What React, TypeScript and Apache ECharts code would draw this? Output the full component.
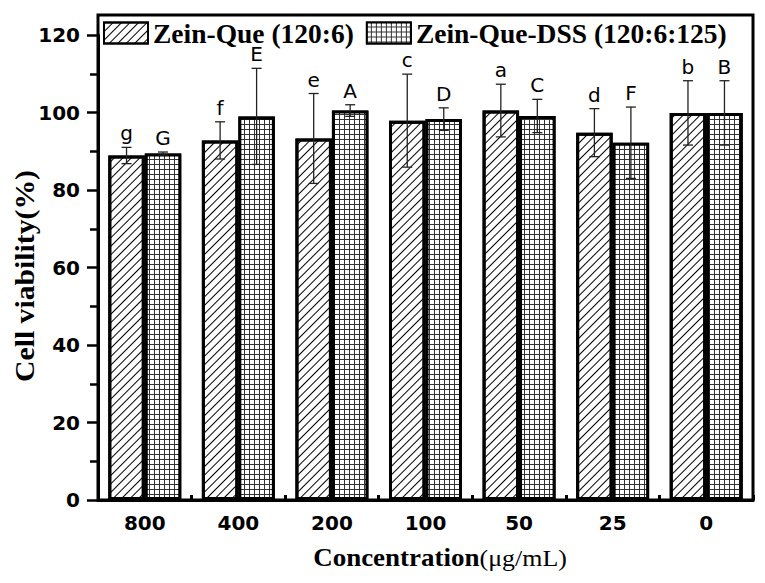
import { useEffect, useRef } from 'react';
import * as echarts from 'echarts';

const categories = ['800', '400', '200', '100', '50', '25', '0'];
const seriesNames = ['Zein-Que (120:6)', 'Zein-Que-DSS (120:6:125)'];
const queMeans = [88.9, 92.8, 93.3, 97.9, 100.5, 94.8, 99.9];
const queSD = [2.1, 4.8, 11.6, 12.0, 6.8, 6.2, 8.3];
const queLetters = ['g', 'f', 'e', 'c', 'a', 'd', 'b'];
const dssMeans = [89.4, 99.0, 100.5, 98.3, 99.1, 92.2, 99.9];
const dssSD = [0.4, 12.4, 1.5, 2.9, 4.3, 9.2, 8.3];
const dssLetters = ['G', 'E', 'A', 'D', 'C', 'F', 'B'];
const yTicks = [0, 20, 40, 60, 80, 100, 120];

const CAT_GAP = 0.22;

const hatchDecal = {
  symbol: 'rect',
  symbolSize: 1,
  color: '#000',
  dashArrayX: [1, 0],
  dashArrayY: [0.8, 4.2],
  rotation: -Math.PI / 4,
};

const gridDecal = {
  symbol: 'rect',
  symbolSize: 1,
  color: '#fff',
  dashArrayX: [3.3, 1],
  dashArrayY: [3.3, 1],
  rotation: 0,
};

function errSeries(means: number[], sds: number[], letters: string[], side: number) {
  return {
    type: 'custom',
    z: 5,
    silent: true,
    data: means.map((m, i) => [i, m, sds[i]]),
    encode: { x: 0, y: 1 },
    renderItem: (params: any, api: any) => {
      const i = api.value(0);
      const m = api.value(1);
      const s = api.value(2);
      const band = api.size([1, 0])[0];
      const barW = (band * (1 - CAT_GAP)) / 2;
      const c = api.coord([i, m]);
      const cx = c[0] + (side * barW) / 2;
      const yTop = api.coord([i, m + s])[1];
      const yBot = api.coord([i, m - s])[1];
      const cap = 5;
      const ls = { stroke: '#222', lineWidth: 1.3 };
      return {
        type: 'group',
        children: [
          { type: 'line', shape: { x1: cx, y1: yTop, x2: cx, y2: yBot }, style: ls },
          { type: 'line', shape: { x1: cx - cap, y1: yTop, x2: cx + cap, y2: yTop }, style: ls },
          { type: 'line', shape: { x1: cx - cap, y1: yBot, x2: cx + cap, y2: yBot }, style: ls },
          {
            type: 'text',
            x: cx,
            y: yTop - 4,
            style: {
              text: letters[params.dataIndex],
              fill: '#000',
              font: '20px "DejaVu Sans"',
              lineHeight: 20,
              align: 'center',
              verticalAlign: 'bottom',
            },
          },
        ],
      };
    },
  };
}

export default function App() {
  const ref = useRef<HTMLDivElement>(null);
  useEffect(() => {
    const chart = echarts.init(ref.current!, null, { renderer: 'svg' });
    const option: any = {
      animation: false,
      backgroundColor: '#fff',
      aria: { enabled: true, decal: { show: true } },
      grid: { left: 98, right: 12, top: 35, bottom: 83, show: false },
      legend: {
        left: 103,
        top: 19,
        padding: 0,
        itemWidth: 44,
        itemHeight: 21,
        itemGap: 12,
        icon: 'rect',
        data: seriesNames,
        textStyle: {
          fontFamily: '"Liberation Serif", "Times New Roman", serif',
          fontWeight: 'bold',
          fontSize: 27.5,
          lineHeight: 24,
          color: '#000',
        },
      },
      xAxis: {
        type: 'category',
        data: categories,
        axisLine: { lineStyle: { color: '#000', width: 3 } },
        axisTick: { show: true, inside: true, length: 5, lineStyle: { color: '#000', width: 3 } },
        axisLabel: {
          margin: 13,
          color: '#000',
          fontFamily: '"DejaVu Sans"',
          fontWeight: 'bold',
          fontSize: 20,
        },
      },
      yAxis: {
        type: 'value',
        min: yTicks[0],
        max: yTicks[yTicks.length - 1],
        interval: 20,
        splitLine: { show: false },
        axisLine: { show: true, lineStyle: { color: '#000', width: 3 } },
        axisTick: { show: true, length: 11, lineStyle: { color: '#000', width: 2.5 } },
        minorTick: { show: true, splitNumber: 2, length: 8, lineStyle: { color: '#000', width: 2.5 } },
        axisLabel: {
          margin: 18,
          color: '#000',
          fontFamily: '"DejaVu Sans"',
          fontWeight: 'bold',
          fontSize: 20,
        },
      },
      graphic: [
        {
          type: 'rect',
          silent: true,
          z: 10,
          shape: { x: 98, y: 15, width: 655, height: 485 },
          style: { fill: 'none', stroke: '#000', lineWidth: 3 },
        },
        {
          type: 'text',
          x: 25,
          y: 276,
          rotation: Math.PI / 2,
          scaleX: 1.1,
          style: {
            text: 'Cell viability(%)',
            fill: '#000',
            font: 'bold 27px "Liberation Serif"',
            align: 'center',
            verticalAlign: 'middle',
          },
        },
        {
          type: 'text',
          x: 440,
          y: 558,
          scaleX: 1.08,
          style: {
            text: '{a|Concentration}{b|(μg/mL)}',
            align: 'center',
            verticalAlign: 'middle',
            rich: {
              a: { fontFamily: 'Liberation Serif', fontWeight: 'bold', fontSize: 25, fill: '#000', color: '#000' },
              b: { fontFamily: 'Liberation Serif', fontWeight: 'normal', fontSize: 24, fill: '#000', color: '#000' },
            },
          },
        },
      ],
      series: [
        {
          name: seriesNames[0],
          type: 'bar',
          data: queMeans,
          barGap: '0%',
          barCategoryGap: CAT_GAP * 100 + '%',
          itemStyle: { color: '#fff', borderColor: '#000', borderWidth: 3, decal: hatchDecal },
        },
        {
          name: seriesNames[1],
          type: 'bar',
          data: dssMeans,
          barGap: '0%',
          barCategoryGap: CAT_GAP * 100 + '%',
          itemStyle: { color: '#333', borderColor: '#000', borderWidth: 3, decal: gridDecal },
        },
        errSeries(queMeans, queSD, queLetters, -1),
        errSeries(dssMeans, dssSD, dssLetters, 1),
      ],
    };
    chart.setOption(option);
    return () => chart.dispose();
  }, []);
  return (
    <div
      ref={ref}
      style={{ position: 'fixed', left: 0, top: 0, width: 765, height: 583, background: '#fff' }}
    />
  );
}
